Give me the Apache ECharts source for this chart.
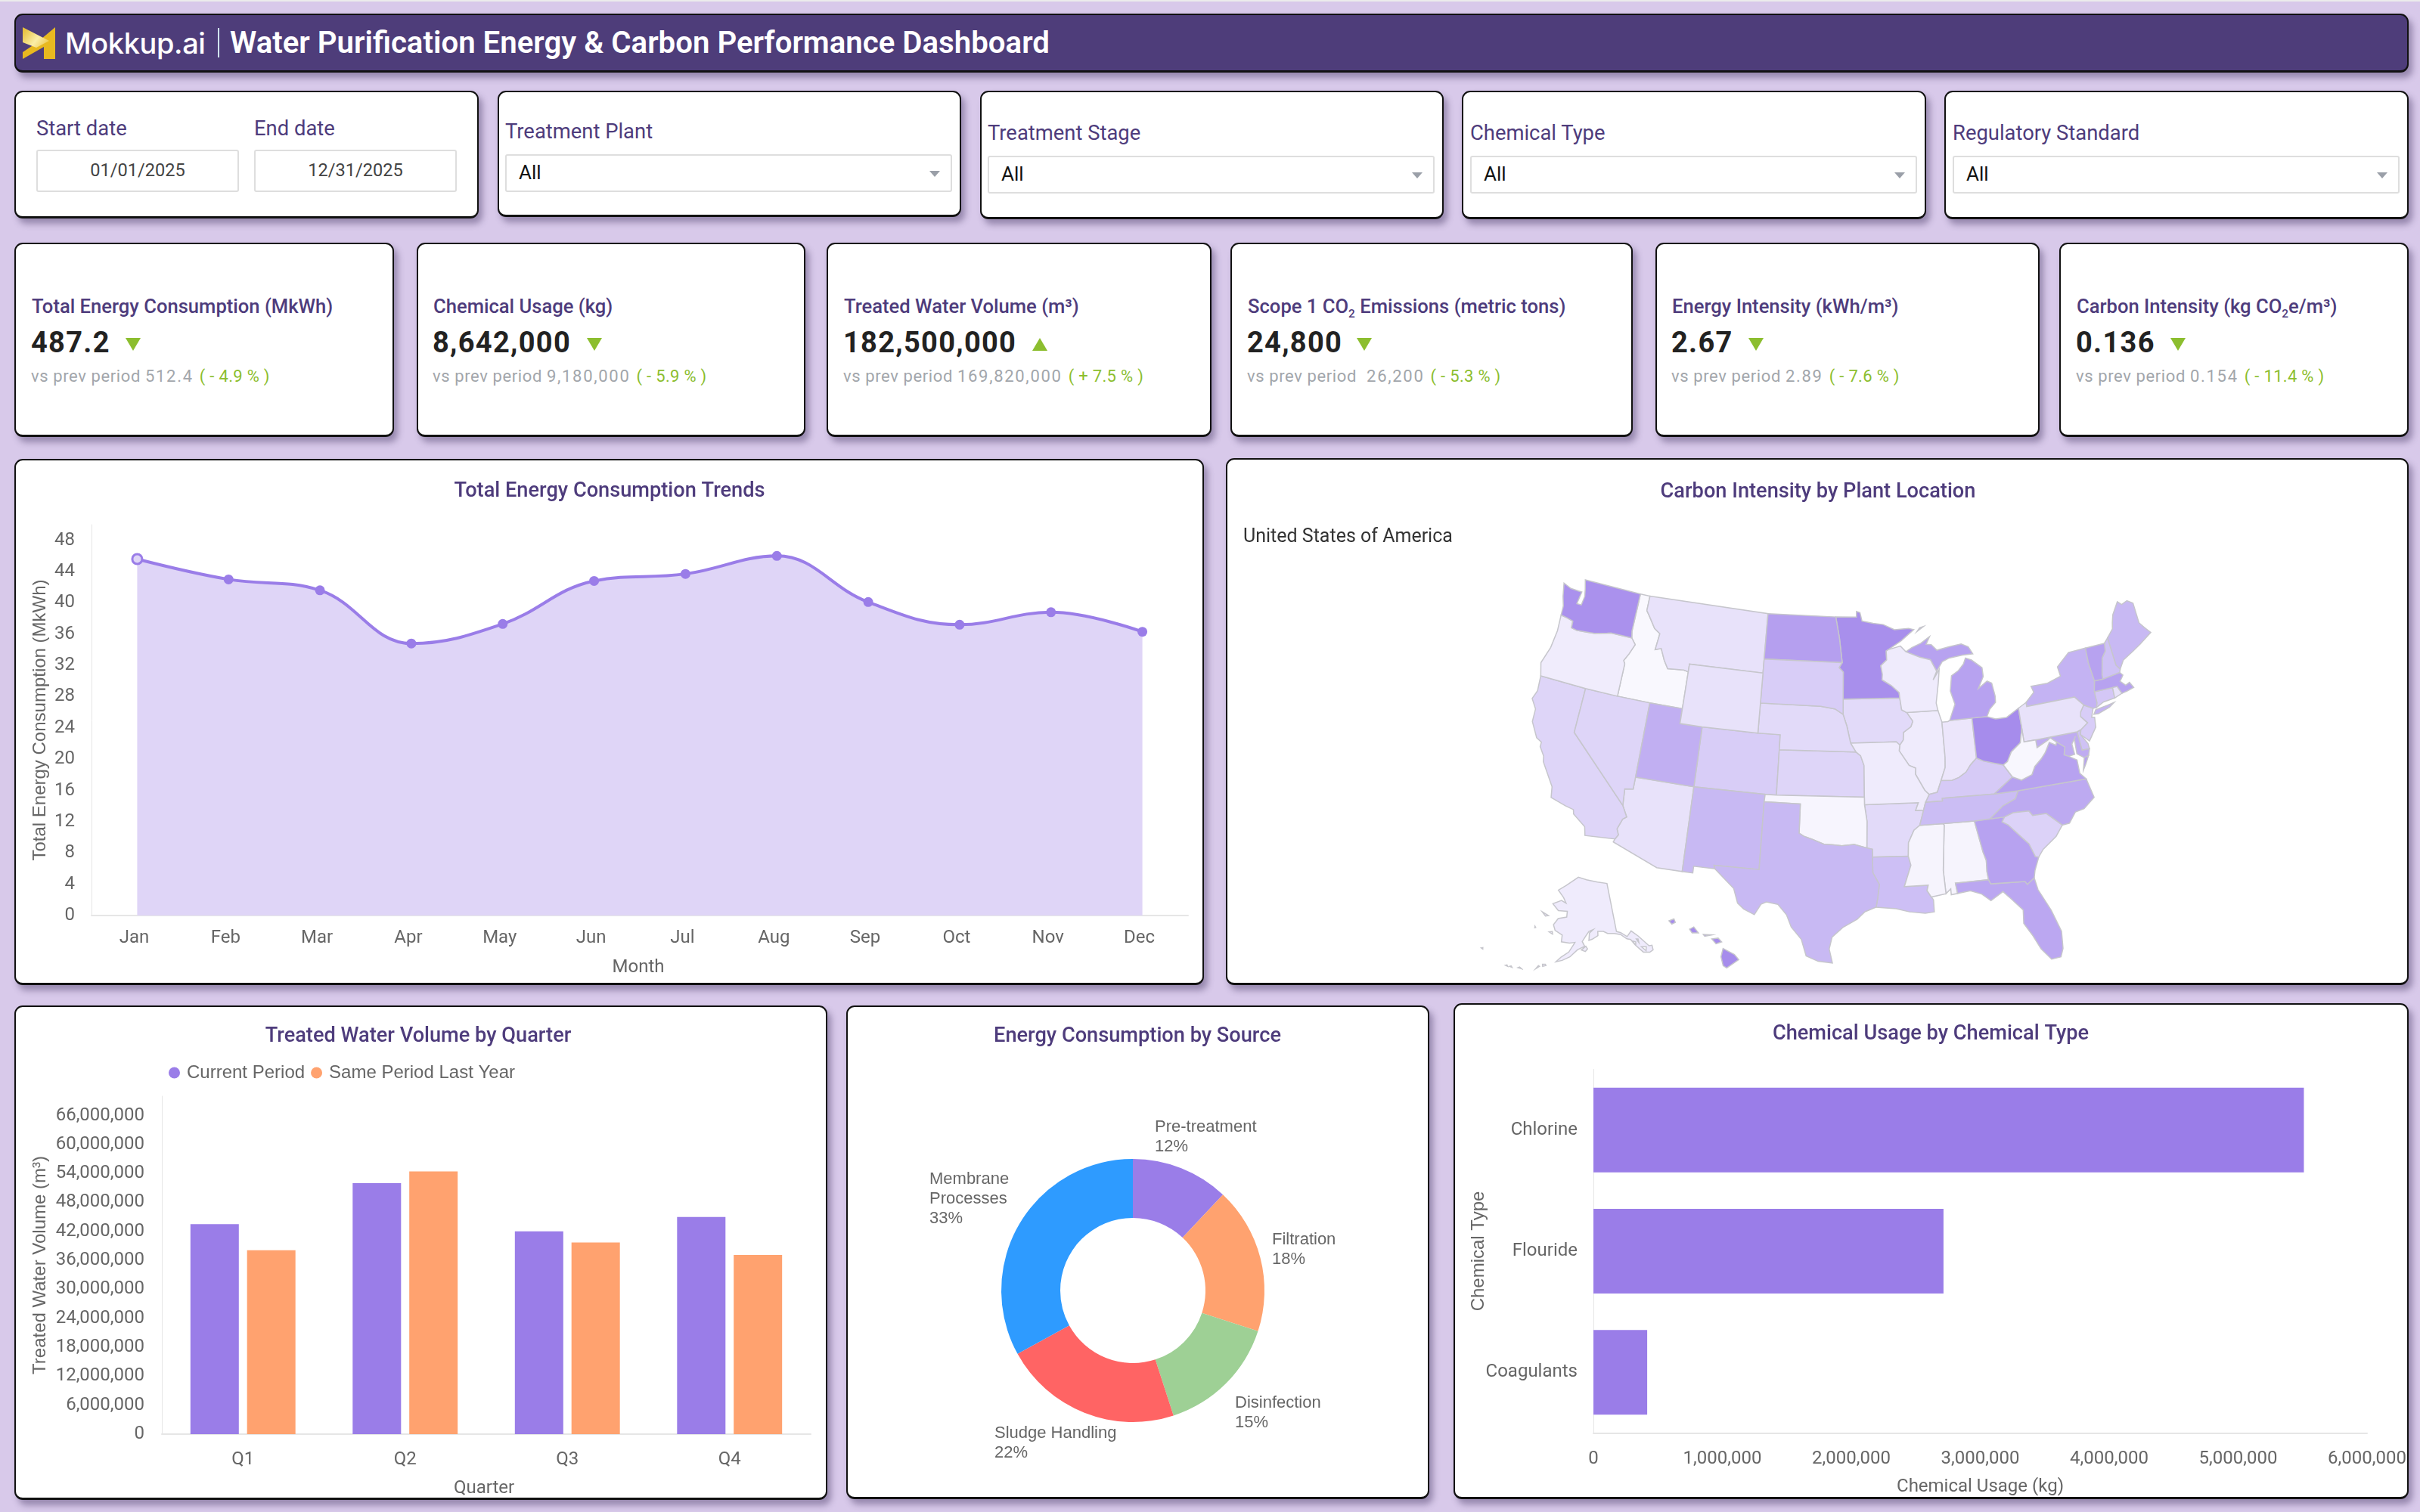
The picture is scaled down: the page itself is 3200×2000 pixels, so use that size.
<!DOCTYPE html>
<html>
<head>
<meta charset="utf-8">
<title>Water Purification Energy & Carbon Performance Dashboard</title>
<script src="https://cdn.jsdelivr.net/npm/echarts@6/dist/echarts.min.js"></script>
<style>
  html, body { margin: 0; padding: 0; }
  body { width: 3200px; height: 2000px; background: #d8c9ea; position: relative; overflow: hidden; font-family: Roboto, sans-serif; }
  .topline { position: absolute; left: 0; top: 0; width: 3200px; height: 2px; background: #ececec; }
  .card { position: absolute; box-sizing: border-box; background: #fff; border: 2px solid #111; border-bottom-width: 3px; border-radius: 11px; box-shadow: 5px 7px 9px rgba(60, 45, 90, .42); }
  .chart { position: absolute; }
  .abs { position: absolute; white-space: nowrap; }
  .header { background: #4e3d7a; }
  .flabel { color: #4e3c7c; font-size: 27.4px; line-height: 34px; }
  .input { position: absolute; box-sizing: border-box; border: 2px solid #dedede; border-radius: 3px; background: #fff; }
  .date { text-align: center; color: #444; font-size: 23.6px; line-height: 51px; }
  .sel { color: #111; font-size: 26px; line-height: 44px; padding-left: 16px; }
  .sel::after { content: ""; position: absolute; right: 14px; top: 20px; border-left: 7px solid transparent; border-right: 7px solid transparent; border-top: 8px solid #9a9fa8; }
  .klabel { color: #4e3c7c; font-size: 25.6px; font-weight: 500; line-height: 32px; }
  .kvalue { color: #222; font-size: 38px; font-weight: 700; line-height: 44px; letter-spacing: 1.3px; }
  .ksub { color: #a2a6ab; font-size: 22px; line-height: 28px; letter-spacing: .6px; white-space: pre; }
  .ksub i { font-style: normal; letter-spacing: 1.7px; }
  .ksub b { color: #8cbe2f; font-weight: 400; letter-spacing: .3px; margin-left: 2px; }
  .tri { position: absolute; width: 0; height: 0; border-left: 10px solid transparent; border-right: 10px solid transparent; }
  .tri.down { border-top: 17px solid #8cbe2f; }
  .tri.up { border-bottom: 17px solid #8cbe2f; }
  sub { font-size: 60%; line-height: 0; }
  sup { font-size: 60%; line-height: 0; }
  #usmap { filter: blur(0.7px); }
</style>
</head>
<body>
<div class="topline"></div>

<div class="card header" style="left:19px;top:18px;width:3166px;height:78px"></div>
<svg class="abs" style="left:30px;top:36px" width="44" height="42" viewBox="0 0 44 42">
  <defs><linearGradient id="lg" x1="0" y1="0" x2="1" y2="0.6"><stop offset="0" stop-color="#e3b92a"/><stop offset=".65" stop-color="#fbeea8"/><stop offset="1" stop-color="#f0d060"/></linearGradient></defs>
  <polygon points="43,0 43,42 28,42 28,26 0,42 0,33 18,21" fill="#e8b920"/>
  <polygon points="0,0 35,18 18,27 0,20" fill="url(#lg)"/>
</svg>
<div class="abs" style="left:86px;top:29px;color:#fff;font-family:Inter,sans-serif;font-weight:500;font-size:38px;line-height:56px;letter-spacing:-.4px">Mokkup.ai</div>
<div class="abs" style="left:288px;top:37px;width:2px;height:39px;background:#cfe3ee"></div>
<div class="abs" style="left:304px;top:29px;color:#fff;font-weight:600;font-size:40.2px;line-height:56px">Water Purification Energy &amp; Carbon Performance Dashboard</div>

<div class="card" style="left:19px;top:120px;width:614px;height:169px"></div>
<div class="card" style="left:658px;top:120px;width:613px;height:167px"></div>
<div class="card" style="left:1296px;top:120px;width:613px;height:170px"></div>
<div class="card" style="left:1933px;top:120px;width:614px;height:170px"></div>
<div class="card" style="left:2571px;top:120px;width:614px;height:170px"></div>

<div class="abs flabel" style="left:48px;top:153px">Start date</div>
<div class="abs flabel" style="left:336px;top:153px">End date</div>
<div class="input date" style="left:48px;top:198px;width:268px;height:56px">01/01/2025</div>
<div class="input date" style="left:336px;top:198px;width:268px;height:56px">12/31/2025</div>

<div class="abs flabel" style="left:668px;top:157px">Treatment Plant</div>
<div class="input sel" style="left:668px;top:204px;width:591px;height:50px">All</div>
<div class="abs flabel" style="left:1306px;top:159px">Treatment Stage</div>
<div class="input sel" style="left:1306px;top:206px;width:591px;height:50px">All</div>
<div class="abs flabel" style="left:1944px;top:159px">Chemical Type</div>
<div class="input sel" style="left:1944px;top:206px;width:591px;height:50px">All</div>
<div class="abs flabel" style="left:2582px;top:159px">Regulatory Standard</div>
<div class="input sel" style="left:2582px;top:206px;width:591px;height:50px">All</div>

<div id="kpis"></div>

<div class="card" style="left:19px;top:607px;width:1573px;height:696px"></div>
<div class="chart" id="trend" style="left:19px;top:607px;width:1573px;height:696px"></div>

<div class="card" style="left:1621px;top:606px;width:1564px;height:697px"></div>
<div class="chart" id="usmap" style="left:1621px;top:606px;width:1564px;height:697px"></div>
<div class="chart" id="usmapTitle" style="left:1621px;top:606px;width:1564px;height:140px"></div>

<div class="card" style="left:19px;top:1330px;width:1075px;height:654px"></div>
<div class="chart" id="quarter" style="left:19px;top:1330px;width:1075px;height:654px"></div>

<div class="card" style="left:1119px;top:1330px;width:771px;height:653px"></div>
<div class="chart" id="source" style="left:1119px;top:1330px;width:771px;height:653px"></div>

<div class="card" style="left:1922px;top:1327px;width:1263px;height:656px"></div>
<div class="chart" id="chem" style="left:1922px;top:1327px;width:1263px;height:656px"></div>

<script>
// ---- KPI cards ----
const kpiLabels = ['Total Energy Consumption (MkWh)', 'Chemical Usage (kg)', 'Treated Water Volume (m³)',
  'Scope 1 CO<sub>2</sub> Emissions (metric tons)', 'Energy Intensity (kWh/m³)', 'Carbon Intensity (kg CO<sub>2</sub>e/m³)'];
const kpiValues = ['487.2', '8,642,000', '182,500,000', '24,800', '2.67', '0.136'];
const kpiPrevious = ['512.4', '9,180,000', '169,820,000', ' 26,200', '2.89', '0.154'];
const kpiChange = ['( - 4.9 % )', '( - 5.9 % )', '( + 7.5 % )', '( - 5.3 % )', '( - 7.6 % )', '( - 11.4 % )'];
const kpiTrend = ['down', 'down', 'up', 'down', 'down', 'down'];

// ---- Total energy consumption by month (MkWh) ----
const months = ['Jan', 'Feb', 'Mar', 'Apr', 'May', 'Jun', 'Jul', 'Aug', 'Sep', 'Oct', 'Nov', 'Dec'];
const monthlyEnergy = [45.6, 43.0, 41.6, 34.8, 37.3, 42.8, 43.7, 46.0, 40.1, 37.2, 38.8, 36.3];

// ---- Treated water volume by quarter (m³) ----
const quarters = ['Q1', 'Q2', 'Q3', 'Q4'];
const volumeCurrent = [43500000, 52000000, 42000000, 45000000];
const volumeLastYear = [38100000, 54400000, 39700000, 37100000];

// ---- Energy share by source (%) ----
const sources = ['Pre-treatment', 'Filtration', 'Disinfection', 'Sludge Handling', 'Membrane\nProcesses'];
const sourceShare = [12, 18, 15, 22, 33];

// ---- Chemical usage by type (kg) ----
const chemicals = ['Coagulants', 'Flouride', 'Chlorine'];
const chemicalUsage = [417000, 2715000, 5510000];

// ---- Carbon intensity by state (kg CO2e/m³) ----
const stateNames = ['Alabama','Alaska','Arizona','Arkansas','California','Colorado','Connecticut','Delaware','Florida','Georgia','Hawaii','Idaho','Illinois','Indiana','Iowa','Kansas','Kentucky','Louisiana','Maine','Maryland','Massachusetts','Michigan','Minnesota','Mississippi','Missouri','Montana','Nebraska','Nevada','New Hampshire','New Jersey','New Mexico','New York','North Carolina','North Dakota','Ohio','Oklahoma','Oregon','Pennsylvania','Rhode Island','South Carolina','South Dakota','Tennessee','Texas','Utah','Vermont','Virginia','Washington','West Virginia','Wisconsin','Wyoming'];
const stateIntensity = [0.103,0.110,0.116,0.122,0.126,0.132,0.136,0.140,0.160,0.164,0.180,0.100,0.110,0.113,0.122,0.126,0.134,0.142,0.147,0.156,0.164,0.164,0.178,0.103,0.110,0.116,0.122,0.126,0.140,0.132,0.147,0.151,0.158,0.166,0.180,0.102,0.109,0.116,0.116,0.128,0.132,0.144,0.147,0.154,0.164,0.164,0.176,0.101,0.110,0.116];

// State outlines in degrees of longitude and latitude; each entry is a list of rings.
const stateOutlines = {
  Washington: [[[-124.7,48.38],[-123.9,48.17],[-123.1,48.15],[-122.75,48.15],[-122.9,47.3],[-122.45,47.3],[-122.35,47.9],[-122.5,48.4],[-122.75,49],[-117.03,49],[-117.04,46.42],[-116.92,45.995],[-118.98,46],[-119.3,45.93],[-120.5,45.7],[-121.2,45.65],[-122.2,45.58],[-122.75,45.65],[-122.8,46.1],[-123.4,46.2],[-124.05,46.27],[-124.1,46.9],[-124.4,47.5]]],
  Oregon: [[[-124.05,46.27],[-123.4,46.2],[-122.8,46.1],[-122.75,45.65],[-122.2,45.58],[-121.2,45.65],[-120.5,45.7],[-119.3,45.93],[-118.98,46],[-116.92,45.995],[-116.46,45.6],[-116.85,44.9],[-117.2,44.4],[-117.03,44.2],[-117.03,42],[-120,42],[-124.21,42],[-124.55,42.84],[-124.1,44],[-123.95,45.2]]],
  California: [[[-124.21,42],[-120,42],[-120,39],[-114.63,35],[-114.14,34.3],[-114.43,34.1],[-114.72,33.4],[-114.52,33.03],[-114.72,32.72],[-117.12,32.53],[-117.3,33.1],[-118.4,33.75],[-118.5,34.03],[-119.2,34.15],[-120.5,34.45],[-120.65,35.15],[-121.9,36.6],[-122,36.96],[-122.5,37.5],[-122.5,37.8],[-123,38],[-123.75,38.95],[-123.8,39.8],[-124.35,40.4],[-124.1,41]]],
  Nevada: [[[-120,42],[-117.03,42],[-114.04,42],[-114.04,37],[-114.05,36.2],[-114.74,36.1],[-114.63,35],[-120,39]]],
  Idaho: [[[-117.03,49],[-116.05,49],[-116.05,48],[-115.72,47.7],[-114.95,46.93],[-114.35,46.65],[-114.5,45.55],[-113.95,45.7],[-113.45,44.95],[-113,44.45],[-111.5,44.55],[-111.05,44.48],[-111.05,42],[-114.04,42],[-117.03,42],[-117.03,44.2],[-117.2,44.4],[-116.85,44.9],[-116.46,45.6],[-116.92,45.995],[-117.04,46.42]]],
  Montana: [[[-116.05,49],[-104.05,49],[-104.05,45.94],[-104.05,45],[-111.05,45],[-111.05,44.48],[-111.5,44.55],[-113,44.45],[-113.45,44.95],[-113.95,45.7],[-114.5,45.55],[-114.35,46.65],[-114.95,46.93],[-115.72,47.7],[-116.05,48]]],
  Wyoming: [[[-111.05,45],[-104.05,45],[-104.05,43],[-104.05,41],[-109.05,41],[-111.05,41],[-111.05,42],[-111.05,44.48]]],
  Utah: [[[-114.04,42],[-111.05,42],[-111.05,41],[-109.05,41],[-109.05,37],[-114.04,37]]],
  Colorado: [[[-109.05,41],[-104.05,41],[-102.05,41],[-102.05,40],[-102.05,37],[-103,37],[-109.05,37]]],
  Arizona: [[[-114.74,36.1],[-114.05,36.2],[-114.04,37],[-109.05,37],[-109.05,31.33],[-111.07,31.33],[-114.81,32.5],[-114.72,32.72],[-114.52,33.03],[-114.72,33.4],[-114.43,34.1],[-114.14,34.3],[-114.63,35]]],
  'New Mexico': [[[-109.05,37],[-103,37],[-103.04,36.5],[-103.04,32],[-106.62,32],[-106.53,31.78],[-108.21,31.78],[-108.21,31.33],[-109.05,31.33]]],
  'North Dakota': [[[-104.05,49],[-97.23,49],[-96.85,47.6],[-96.56,45.94],[-104.05,45.94]]],
  'South Dakota': [[[-104.05,45.94],[-96.56,45.94],[-96.85,45.6],[-96.45,45.3],[-96.45,43.5],[-96.45,42.49],[-97.2,42.85],[-98.5,43],[-104.05,43]]],
  Nebraska: [[[-104.05,43],[-98.5,43],[-97.2,42.85],[-96.45,42.49],[-96.1,41.7],[-95.77,40.58],[-95.31,40],[-102.05,40],[-102.05,41],[-104.05,41]]],
  Kansas: [[[-102.05,40],[-95.31,40],[-94.9,39.75],[-94.61,39.1],[-94.62,37],[-102.05,37]]],
  Oklahoma: [[[-103,37],[-102.05,37],[-94.62,37],[-94.62,36.5],[-94.43,35.4],[-94.48,33.64],[-95.5,33.88],[-96.5,33.8],[-97.2,33.85],[-97.95,33.88],[-98.95,34.2],[-99.6,34.37],[-100,34.56],[-100,36.5],[-103.04,36.5]]],
  Texas: [[[-103.04,36.5],[-100,36.5],[-100,34.56],[-99.6,34.37],[-98.95,34.2],[-97.95,33.88],[-97.2,33.85],[-96.5,33.8],[-95.5,33.88],[-94.48,33.64],[-94.04,33.55],[-94.04,33.02],[-94.04,31.99],[-93.55,31.2],[-93.7,30.3],[-93.84,29.69],[-94.7,29.4],[-95.3,28.9],[-96.4,28.35],[-97.2,27.7],[-97.4,26.9],[-97.15,25.96],[-98.2,26.06],[-99.1,26.4],[-99.5,27.5],[-100.3,28.3],[-100.7,29.1],[-101.4,29.77],[-102.3,29.88],[-102.7,29.7],[-103.15,28.98],[-104,29.3],[-104.5,29.65],[-104.9,30.6],[-106.53,31.78],[-106.62,32],[-103.04,32]]],
  Minnesota: [[[-97.23,49],[-95.15,49],[-95.15,49.38],[-94.8,49.3],[-94.6,48.72],[-93.5,48.55],[-92.5,48.45],[-91.4,48.07],[-90,48.1],[-89.5,48],[-90.8,47.3],[-92.1,46.75],[-92.3,46.66],[-92.29,46.07],[-92.87,45.7],[-92.75,45.1],[-92.8,44.75],[-91.95,44.35],[-91.25,43.85],[-91.22,43.5],[-96.45,43.5],[-96.45,45.3],[-96.85,45.6],[-96.56,45.94],[-96.85,47.6]]],
  Iowa: [[[-96.45,43.5],[-91.22,43.5],[-91.1,42.7],[-90.65,42.5],[-90.15,41.9],[-90.35,41.55],[-91.05,41.2],[-91.1,40.7],[-91.42,40.38],[-91.72,40.6],[-95.77,40.58],[-96.1,41.7],[-96.45,42.49]]],
  Missouri: [[[-95.77,40.58],[-91.72,40.6],[-91.42,40.38],[-91.5,40],[-90.7,39],[-90.15,38.8],[-90.2,38.4],[-89.5,37.3],[-89.15,37],[-89.5,36.5],[-89.7,36],[-90.37,36],[-90.1,36.5],[-94.62,36.5],[-94.62,37],[-94.61,39.1],[-94.9,39.75],[-95.31,40]]],
  Arkansas: [[[-94.62,36.5],[-90.1,36.5],[-90.37,36],[-89.7,36],[-90.1,35],[-90.6,34.7],[-91.1,33.9],[-91.17,33],[-94.04,33.02],[-94.04,33.55],[-94.48,33.64],[-94.43,35.4]]],
  Louisiana: [[[-94.04,33.02],[-91.17,33],[-91,32.4],[-91.6,31],[-89.73,31],[-89.85,30.65],[-89.55,30.2],[-89.4,30],[-89.4,29.2],[-90.1,29.15],[-91.3,29.3],[-92.3,29.55],[-93.84,29.69],[-93.7,30.3],[-93.55,31.2],[-94.04,31.99]]],
  Wisconsin: [[[-92.3,46.66],[-92.1,46.75],[-90.9,46.95],[-90.4,46.55],[-89.1,46.13],[-88.1,45.9],[-87.6,45.1],[-88,44.55],[-87.35,45.2],[-87.55,44.3],[-87.9,43],[-87.8,42.49],[-90.65,42.5],[-91.1,42.7],[-91.22,43.5],[-91.25,43.85],[-91.95,44.35],[-92.8,44.75],[-92.75,45.1],[-92.87,45.7],[-92.29,46.07]]],
  Illinois: [[[-90.65,42.5],[-87.8,42.49],[-87.53,41.7],[-87.53,39.35],[-87.6,38.7],[-88.05,37.85],[-88.45,37.1],[-89.15,37],[-89.5,37.3],[-90.2,38.4],[-90.15,38.8],[-90.7,39],[-91.5,40],[-91.42,40.38],[-91.1,40.7],[-91.05,41.2],[-90.35,41.55],[-90.15,41.9]]],
  Indiana: [[[-87.53,41.7],[-87,41.7],[-86.82,41.76],[-84.8,41.76],[-84.82,39.1],[-85.4,38.7],[-85.85,38.25],[-86.5,37.95],[-87.1,37.8],[-88.05,37.85],[-87.6,38.7],[-87.53,39.35]]],
  Ohio: [[[-84.8,41.76],[-83.45,41.73],[-82.7,41.5],[-81.7,41.5],[-80.52,41.98],[-80.52,40.64],[-80.85,39.7],[-81.75,39.2],[-82.2,38.6],[-82.6,38.42],[-83.3,38.6],[-84.25,38.85],[-84.82,39.1]]],
  Kentucky: [[[-84.82,39.1],[-84.25,38.85],[-83.3,38.6],[-82.6,38.42],[-81.97,37.54],[-83.68,36.6],[-88.07,36.68],[-88.07,36.5],[-89.5,36.5],[-89.15,37],[-88.45,37.1],[-88.05,37.85],[-87.1,37.8],[-86.5,37.95],[-85.85,38.25],[-85.4,38.7]]],
  Tennessee: [[[-90.1,35],[-89.7,36],[-89.5,36.5],[-88.07,36.5],[-88.07,36.68],[-83.68,36.6],[-81.68,36.59],[-82,36.1],[-83.1,35.75],[-84.32,34.99],[-85.6,34.98],[-88.2,35]]],
  Mississippi: [[[-90.1,35],[-88.2,35],[-88.1,34.9],[-88.47,31.9],[-88.4,30.35],[-89.55,30.2],[-89.85,30.65],[-89.73,31],[-91.6,31],[-91,32.4],[-91.17,33],[-91.1,33.9],[-90.6,34.7]]],
  Alabama: [[[-88.2,35],[-85.6,34.98],[-85.18,32.87],[-85,32.3],[-85.05,31.55],[-85,31],[-87.6,31],[-87.5,30.3],[-88,30.25],[-88,30.65],[-88.4,30.35],[-88.47,31.9],[-88.1,34.9]]],
  Georgia: [[[-85.6,34.98],[-84.32,34.99],[-83.1,35],[-83.35,34.7],[-82.9,34.45],[-81.95,33.5],[-81.45,33],[-81.1,32.1],[-80.85,32.03],[-81.3,31.2],[-81.45,30.72],[-82.05,30.36],[-82.2,30.57],[-84.86,30.71],[-85,31],[-85.05,31.55],[-85,32.3],[-85.18,32.87]]],
  Florida: [[[-87.6,31],[-85,31],[-84.86,30.71],[-82.2,30.57],[-82.05,30.36],[-81.45,30.72],[-81.3,29.9],[-80.55,28.4],[-80.05,26.9],[-80.15,25.75],[-80.4,25.2],[-81.1,25.15],[-81.75,25.95],[-82.2,26.9],[-82.75,27.8],[-82.65,28.7],[-83.4,29.5],[-84,30.1],[-85,29.6],[-85.65,30.1],[-86.5,30.4],[-87.5,30.3]]],
  'South Carolina': [[[-83.35,34.7],[-83.1,35],[-82.35,35.2],[-81.05,35.15],[-80.8,34.82],[-79.67,34.8],[-78.55,33.86],[-79.2,33.2],[-80.4,32.5],[-80.85,32.03],[-81.1,32.1],[-81.45,33],[-81.95,33.5],[-82.9,34.45]]],
  'North Carolina': [[[-84.32,34.99],[-83.1,35],[-82.35,35.2],[-81.05,35.15],[-80.8,34.82],[-79.67,34.8],[-78.55,33.86],[-77.95,33.9],[-77.3,34.55],[-76.55,34.65],[-75.55,35.25],[-75.87,36.55],[-81.68,36.59],[-82,36.1],[-83.1,35.75]]],
  Virginia: [[[-83.68,36.6],[-81.97,37.54],[-81.25,37.25],[-80.3,37.5],[-79.95,38],[-79.3,38.42],[-78.87,38.77],[-78.35,39.4],[-77.83,39.13],[-77.72,39.32],[-77.1,38.9],[-77.3,38.4],[-76.95,38.25],[-76.3,37.9],[-76.3,37],[-75.87,36.55],[-81.68,36.59]],[[-75.95,37.15],[-75.65,37.95],[-75.25,38.03],[-75.65,37.5]]],
  'West Virginia': [[[-80.52,40.64],[-80.52,39.72],[-79.48,39.72],[-79.48,39.2],[-78.45,39.55],[-78.2,39.68],[-77.72,39.32],[-77.83,39.13],[-78.35,39.4],[-78.87,38.77],[-79.3,38.42],[-79.95,38],[-80.3,37.5],[-81.25,37.25],[-81.97,37.54],[-82.6,38.42],[-82.2,38.6],[-81.75,39.2],[-80.85,39.7]]],
  Pennsylvania: [[[-80.52,41.98],[-79.76,42.27],[-79.76,42],[-75.35,42],[-74.7,41.36],[-75.1,40.95],[-75.2,40.65],[-74.72,40.15],[-75.42,39.8],[-75.79,39.72],[-79.48,39.72],[-80.52,39.72]]],
  'New York': [[[-79.76,42.27],[-78.9,42.85],[-79.05,43.27],[-77.5,43.27],[-76.2,43.55],[-76.3,44.2],[-75,44.98],[-73.35,45.01],[-73.4,44],[-73.25,42.75],[-73.5,42.05],[-73.5,41.3],[-73.65,41],[-73.95,41],[-74.7,41.36],[-75.35,42],[-79.76,42]],[[-74,40.6],[-73.75,40.87],[-72.6,40.98],[-72,41.05],[-72.5,40.82],[-73.6,40.58]]],
  Vermont: [[[-73.35,45.01],[-71.5,45.01],[-71.6,44.5],[-72.05,44.1],[-72.45,43],[-72.46,42.73],[-73.25,42.75],[-73.4,44]]],
  'New Hampshire': [[[-71.5,45.01],[-71.08,45.3],[-70.98,43.4],[-70.7,43.07],[-70.82,42.87],[-72.46,42.73],[-72.45,43],[-72.05,44.1],[-71.6,44.5]]],
  Maine: [[[-71.08,45.3],[-70.4,45.8],[-70.25,46.2],[-70,46.7],[-69.23,47.46],[-68.9,47.2],[-68.3,47.35],[-67.8,47.07],[-67.8,45.7],[-67.45,45.3],[-67,44.85],[-68.3,44.3],[-69.1,44],[-70.2,43.6],[-70.7,43.07],[-70.98,43.4]]],
  Massachusetts: [[[-73.5,42.05],[-73.25,42.75],[-72.46,42.73],[-70.82,42.87],[-70.6,42.65],[-71,42.3],[-70.6,41.95],[-70.2,42.07],[-69.95,41.67],[-70.65,41.55],[-71.12,41.5],[-71.38,42.02],[-71.8,42.02]]],
  'Rhode Island': [[[-71.8,42.02],[-71.38,42.02],[-71.12,41.5],[-71.85,41.32]]],
  Connecticut: [[[-73.5,42.05],[-71.8,42.02],[-71.85,41.32],[-72.9,41.25],[-73.65,41],[-73.5,41.3]]],
  'New Jersey': [[[-74.7,41.36],[-73.95,41],[-74.25,40.45],[-74,40.4],[-74.1,39.75],[-74.9,38.95],[-75.55,39.5],[-75.42,39.8],[-74.72,40.15],[-75.2,40.65],[-75.1,40.95]]],
  Delaware: [[[-75.79,39.72],[-75.42,39.8],[-75.55,39.5],[-75.08,38.8],[-75.05,38.45],[-75.7,38.46]]],
  Maryland: [[[-79.48,39.72],[-75.79,39.72],[-75.7,38.46],[-75.05,38.45],[-75.25,38.03],[-75.65,37.95],[-76.2,38.3],[-76.15,39.3],[-76,39.45],[-76.45,39],[-76.4,38.3],[-76.95,38.25],[-77.3,38.4],[-77.1,38.9],[-77.72,39.32],[-78.2,39.68],[-78.45,39.55],[-79.48,39.2]]],
  Michigan: [[[-86.82,41.76],[-84.8,41.76],[-83.45,41.73],[-83.1,42.2],[-82.5,42.6],[-82.45,43],[-82.6,43.9],[-83,44.07],[-83.9,43.65],[-83.3,44.4],[-83.3,45],[-84.2,45.6],[-84.75,45.78],[-85,45.4],[-85.55,45],[-86.25,44.7],[-86.5,43.7],[-86.2,42.8]],[[-90.4,46.55],[-89.1,46.13],[-88.1,45.9],[-87.6,45.1],[-87,45.7],[-86.3,45.9],[-85,46],[-84,46],[-84.35,46.5],[-85,46.75],[-86.2,46.65],[-87.4,46.5],[-87.9,46.9],[-88.4,46.95],[-88,47.45],[-88.9,47.05],[-89.8,46.8]],[[-89.2,47.85],[-88.5,48.17],[-88.9,48.1]]],
  Alaska: [[[-141,69.65],[-141,60.3],[-139.5,59.9],[-137.5,58.9],[-135.5,59.75],[-133.5,58.4],[-131,56],[-130,55.9],[-130.2,55],[-131.5,54.8],[-133.5,55.2],[-135.5,57],[-136.5,58.2],[-137.8,58.5],[-139.7,59.55],[-142,60],[-144.5,60.2],[-146,60.7],[-148.2,60.8],[-148.3,60],[-150.5,59.4],[-151.8,59.2],[-151.5,60.6],[-150,61.2],[-151.7,60.9],[-153,60],[-154.3,59],[-153.4,58.1],[-156,57.4],[-158.5,56],[-161,55.2],[-163,54.8],[-161.5,55.8],[-159,56.9],[-157.5,58.3],[-157,58.8],[-159,58.6],[-162,58.7],[-162,60],[-165,60.7],[-166,61.7],[-164.5,63],[-161,63.5],[-161,64.6],[-165,64.5],[-168,65.6],[-164.3,66.5],[-162,66.1],[-163.5,67.1],[-166.7,68.35],[-163,69.5],[-156.7,71.3],[-152,70.8],[-146,70.2]],[[-154.6,57.4],[-153.2,57.1],[-152.4,57.6],[-153,58.1]],[[-171.7,63.6],[-168.8,63.2],[-170,63]],[[-167.2,60.2],[-165.7,59.9],[-166,60.4]],[[-167,53.5],[-166,53.8],[-166.3,54],[-167.2,53.9]],[[-169,52.8],[-168,53.4],[-168.4,53.5]],[[-174.4,52.1],[-173.3,52.1],[-174,52.3]],[[-177,51.8],[-176.2,51.8],[-176.6,52]],[[-178.3,51.75],[-177.6,51.7],[-177.9,51.9]],[[-173,60.6],[-172.6,60.4],[-172.9,60.3]],[[-134.5,58],[-134,57.2],[-133.9,57.9]],[[-136,57.8],[-135.3,56.9],[-135,57.5]],[[-133.6,56.3],[-132.5,55.3],[-132,56]],[[-187.4,52.8],[-186.8,52.75],[-187,53]]],
  Hawaii: [[[-155.9,20.25],[-155.1,19.85],[-154.8,19.5],[-155.65,18.95],[-155.9,19.1],[-156.05,19.7]],[[-156.7,20.9],[-156.25,20.95],[-156,20.7],[-156.4,20.57]],[[-157.3,21.2],[-156.7,21.17],[-157.2,21.08]],[[-158.28,21.55],[-157.98,21.7],[-157.65,21.3],[-158.1,21.3]],[[-159.75,22.1],[-159.4,22.23],[-159.3,22],[-159.55,21.88]]]
};

// Assemble a GeoJSON collection out of the outlines.
const usaGeo = {
  type: 'FeatureCollection',
  features: stateNames.map(name => ({
    type: 'Feature',
    properties: { name },
    geometry: { type: 'MultiPolygon', coordinates: stateOutlines[name].map(ring => [ring.concat([ring[0]])]) }
  }))
};
echarts.registerMap('USA', usaGeo);

// Equal-area conic projection with y growing downward, and Alaska and Hawaii moved into insets.
const rad = Math.PI / 180;
function conic(originLon, p1, p2, centerLon, centerLat) {
  const n = (Math.sin(p1 * rad) + Math.sin(p2 * rad)) / 2;
  const c = Math.cos(p1 * rad) ** 2 + 2 * n * Math.sin(p1 * rad);
  const raw = (lon, lat) => {
    const r = Math.sqrt(c - 2 * n * Math.sin(lat * rad)) / n;
    const t = n * (lon - originLon) * rad;
    return [r * Math.sin(t), r * Math.cos(t)];
  };
  const o = raw(centerLon, centerLat);
  return (lon, lat) => { const p = raw(lon, lat); return [p[0] - o[0], p[1] - o[1]]; };
}
const lower48 = conic(-96, 29.5, 45.5, -96.6, 38.7);
const alaska = conic(-154, 55, 65, -156, 58.5);
const hawaii = conic(-157, 8, 18, -160, 19.9);
const inset = {
  alaska: { scale: 0.35, dx: -0.307, dy: 0.201 },
  hawaii: { scale: 1, dx: -0.205, dy: 0.212 }
};
const usaProjection = {
  project(pt) {
    const lon = pt[0], lat = pt[1];
    if (lat > 51 && lon < -129) {
      const p = alaska(lon, lat);
      return [p[0] * inset.alaska.scale + inset.alaska.dx, p[1] * inset.alaska.scale + inset.alaska.dy];
    }
    if (lat < 24 && lon < -150) {
      const p = hawaii(lon, lat);
      return [p[0] * inset.hawaii.scale + inset.hawaii.dx, p[1] * inset.hawaii.scale + inset.hawaii.dy];
    }
    return lower48(lon, lat);
  },
  unproject(p) { return [p[0] / 0.012 - 96, 38.7 - p[1] / 0.017]; }
};

// The map box follows the projected extent, so the projection keeps one scale on both axes.
const mapScale = 1135;
const projectedPoints = Object.values(stateOutlines).flat(2).map(usaProjection.project);
const xs = projectedPoints.map(p => p[0]), ys = projectedPoints.map(p => p[1]);
const mapWidth = (Math.max(...xs) - Math.min(...xs)) * mapScale;
const mapHeight = (Math.max(...ys) - Math.min(...ys)) * mapScale;

// ---- KPI cards are assembled from the lists above ----
const kpiCardBoxes = [[19, 502], [551, 514], [1093, 509], [1627, 532], [2189, 508], [2723, 462]];
const kpiTextLeft = [41, 572, 1115, 1649, 2210, 2745];
const kpiTriLeft = [166, 776, 1365, 1794, 2312, 2870];
document.getElementById('kpis').innerHTML = kpiLabels.map((label, i) => `
  <div class="card" style="left:${kpiCardBoxes[i][0]}px;top:321px;width:${kpiCardBoxes[i][1]}px;height:257px"></div>
  <div class="abs klabel" style="left:${kpiTextLeft[i] + 1}px;top:389px">${label}</div>
  <div class="abs kvalue" style="left:${kpiTextLeft[i]}px;top:431px">${kpiValues[i]}</div>
  <div class="tri ${kpiTrend[i]}" style="left:${kpiTriLeft[i]}px;top:447px"></div>
  <div class="abs ksub" style="left:${kpiTextLeft[i]}px;top:484px">vs prev period <i>${kpiPrevious[i]}</i> <b>${kpiChange[i]}</b></div>`).join('');

// ---- Shared chart styling ----
const titleColor = '#4e3c7c', tickColor = '#666', axisColor = '#e6e6e6';
const makeTitle = (text, x, y) => ({
  text, left: x, top: y, textAlign: 'center', textVerticalAlign: 'middle',
  textStyle: { color: titleColor, fontFamily: 'Roboto', fontWeight: 500, fontSize: 27.2 }
});
const tick = { color: tickColor, fontFamily: 'Roboto', fontSize: 24 };
const nameRoboto = { color: tickColor, fontFamily: 'Roboto', fontSize: 24 };
const nameSans = { color: tickColor, fontFamily: '"Liberation Sans"', fontSize: 24 };
const lineOf = (w) => ({ show: true, lineStyle: { color: axisColor, width: w } });
const fmt = v => v.toLocaleString('en-US');
const renderer = { renderer: 'canvas' };

echarts.init(document.getElementById('trend'), null, renderer).setOption({
  animation: false,
  title: makeTitle('Total Energy Consumption Trends', 782, 38),
  grid: { left: 102, top: 87, width: 1450, height: 517, outerBoundsMode: 'none' },
  xAxis: { type: 'category', data: months, boundaryGap: true, name: 'Month', nameLocation: 'middle', nameGap: 57, nameTextStyle: { ...nameRoboto, padding: [0, 4, 0, 0] }, axisTick: { show: false }, axisLine: lineOf(2), axisLabel: { ...tick, margin: 18, padding: [0, 8, 0, 0] } },
  yAxis: { type: 'value', min: 0, max: 50, interval: 4, name: 'Total Energy Consumption (MkWh)', nameLocation: 'middle', nameGap: 56, nameMoveOverlap: false, nameTextStyle: nameSans, splitLine: { show: false }, axisTick: { show: false }, axisLine: lineOf(1), axisLabel: { ...tick, margin: 22, showMaxLabel: false } },
  series: [{
    type: 'line', data: monthlyEnergy.map((v, i) => i === 0 ? { value: v, itemStyle: { color: '#dfd5f7', borderColor: '#9a7de8', borderWidth: 3 } } : v),
    smooth: 0.4, symbol: 'circle', symbolSize: 13, showAllSymbol: true,
    lineStyle: { color: '#9a7de8', width: 4 }, itemStyle: { color: '#9a7de8' }, areaStyle: { color: '#dfd5f7', opacity: 1 }, silent: true
  }]
});

// The state map sits on its own canvas so that only the map is softened.
echarts.init(document.getElementById('usmapTitle'), null, renderer).setOption({
  animation: false,
  title: [makeTitle('Carbon Intensity by Plant Location', 778, 40), { text: 'United States of America', left: 18, top: 100, textVerticalAlign: 'middle', textStyle: { color: '#333', fontFamily: 'Roboto', fontWeight: 400, fontSize: 25 } }]
});
echarts.init(document.getElementById('usmap'), null, renderer).setOption({
  animation: false,
  visualMap: { show: false, type: 'continuous', min: 0.10, max: 0.18, seriesIndex: 0, inRange: { color: ['#f9f8fe', '#a68cec'] } },
  series: [{
    type: 'map', map: 'USA', projection: usaProjection, silent: true, selectedMode: false,
    left: 1223 - mapWidth, top: 161, width: mapWidth, height: mapHeight,
    label: { show: false },
    itemStyle: { borderColor: '#c6c6cc', borderWidth: 1.5 },
    data: stateNames.map((name, i) => ({ name, value: stateIntensity[i] }))
  }]
});

echarts.init(document.getElementById('quarter'), null, renderer).setOption({
  animation: false,
  title: makeTitle('Treated Water Volume by Quarter', 529, 36),
  legend: { left: 199, top: 72, itemWidth: 15, itemHeight: 15, itemGap: 8, icon: 'circle', textStyle: { color: tickColor, fontFamily: '"Liberation Sans"', fontSize: 24, padding: [0, 0, 0, 4] }, selectedMode: false, data: ['Current Period', 'Same Period Last Year'] },
  grid: { left: 195, top: 120, width: 858, height: 447, outerBoundsMode: 'none' },
  xAxis: { type: 'category', data: quarters, name: 'Quarter', nameLocation: 'middle', nameGap: 60, nameTextStyle: { ...nameRoboto, padding: [0, 6, 0, 0] }, axisTick: { show: false }, axisLine: lineOf(2), axisLabel: { ...tick, margin: 22 } },
  yAxis: { type: 'value', min: 0, max: 70000000, interval: 6000000, name: 'Treated Water Volume (m³)', nameLocation: 'middle', nameGap: 149, nameMoveOverlap: false, nameTextStyle: nameSans, splitLine: { show: false }, axisTick: { show: false }, axisLine: lineOf(1), axisLabel: { ...tick, margin: 23, showMaxLabel: false, formatter: fmt } },
  series: [
    { name: 'Current Period', type: 'bar', data: volumeCurrent, barWidth: 64, barGap: '17%', itemStyle: { color: '#9a7de8' }, silent: true },
    { name: 'Same Period Last Year', type: 'bar', data: volumeLastYear, barWidth: 64, itemStyle: { color: '#ffa26f' }, silent: true }
  ]
});

const sourceLabelSpots = [[408, 148], [563, 297], [514, 513], [196, 553], [110, 217]];
const sourceColors = ['#9a7de8', '#ffa26f', '#9ed095', '#ff6464', '#2e9bff'];
echarts.init(document.getElementById('source'), null, renderer).setOption({
  animation: false,
  title: makeTitle('Energy Consumption by Source', 380, 36),
  series: [{
    type: 'pie', radius: [96, 174], center: [379, 377], startAngle: 90, silent: true,
    data: sources.map((name, i) => ({ name, value: sourceShare[i], itemStyle: { color: sourceColors[i] } })),
    label: { show: true, position: 'outside', formatter: p => `${p.name}\n${p.value}%`, color: tickColor, fontFamily: '"Liberation Sans"', fontSize: 22, lineHeight: 26, align: 'left' },
    labelLine: { show: false },
    labelLayout: p => ({ x: sourceLabelSpots[p.dataIndex][0], y: sourceLabelSpots[p.dataIndex][1], align: 'left', verticalAlign: 'top' })
  }]
});

echarts.init(document.getElementById('chem'), null, renderer).setOption({
  animation: false,
  title: makeTitle('Chemical Usage by Chemical Type', 626, 36),
  grid: { left: 185, top: 87.5, width: 1023, height: 481, outerBoundsMode: 'none' },
  xAxis: { type: 'value', min: 0, max: 6000000, interval: 1000000, name: 'Chemical Usage (kg)', nameLocation: 'middle', nameGap: 59, nameTextStyle: nameRoboto, splitLine: { show: false }, axisTick: { show: false }, axisLine: lineOf(2), axisLabel: { ...tick, margin: 22, formatter: fmt } },
  yAxis: { type: 'category', data: chemicals, name: 'Chemical Type', nameLocation: 'middle', nameGap: 140, nameMoveOverlap: false, nameTextStyle: nameSans, axisTick: { show: false }, axisLine: lineOf(1), axisLabel: { ...tick, margin: 21 } },
  series: [{ type: 'bar', data: chemicalUsage, barWidth: 112, itemStyle: { color: '#9a7de8' }, silent: true }]
});
</script>
</body>
</html>
